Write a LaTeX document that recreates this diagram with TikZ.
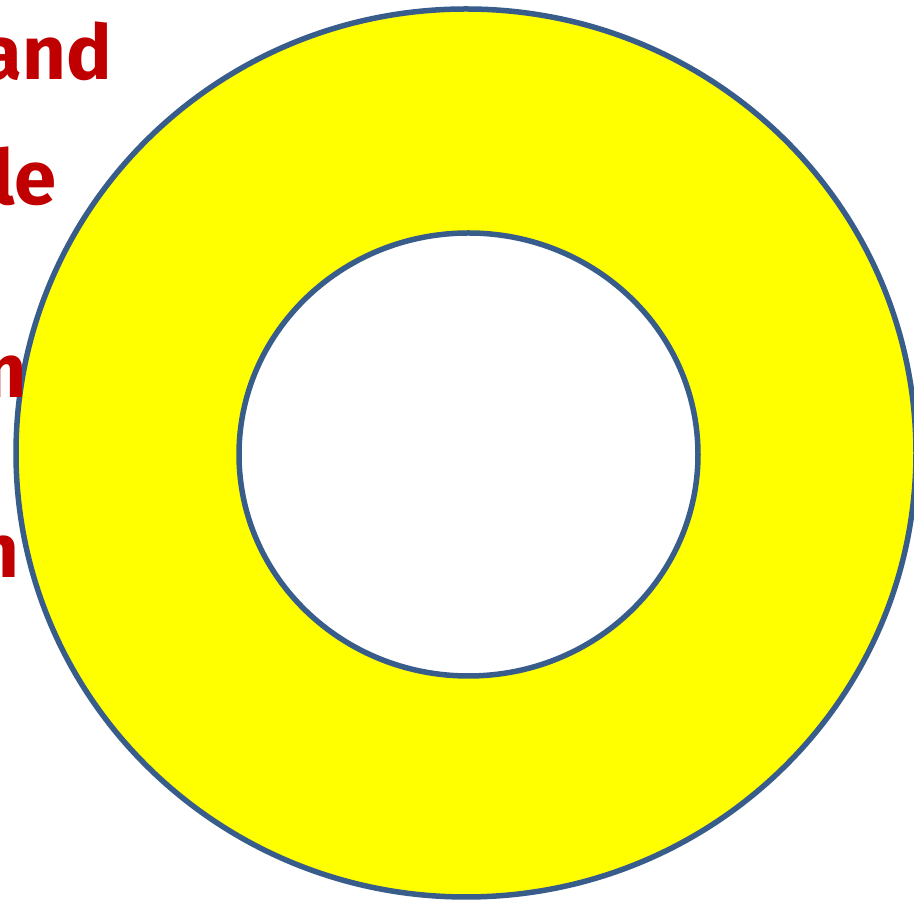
\documentclass[tikz,border=0pt]{standalone}
\usepackage{fontspec}
\setmainfont{Fira Sans}
\definecolor{ringblue}{HTML}{385D8A}
\definecolor{ringyellow}{HTML}{FFFF00}
\definecolor{textred}{HTML}{C00000}
\tikzset{
  redtxt/.style={anchor=base east, inner sep=0pt, text=textred, font=\fontsize{76}{76}\selectfont\bfseries},
  ringline/.style={draw=ringblue, line width=5.5pt}
}
\begin{document}
\begin{tikzpicture}[x=1pt,y=1pt]
\useasboundingbox (0,0) rectangle (914,901);
\clip (0,0) rectangle (914,901);
\fill[white] (0,0) rectangle (914,901);
\fill[ringyellow, even odd rule] (466,448) ellipse [x radius=450, y radius=444]
  (468.5,446.5) ellipse [x radius=229.5, y radius=221.5];
\draw[ringline] (466,448) ellipse [x radius=450, y radius=444];
\draw[ringline] (468.5,446.5) ellipse [x radius=229.5, y radius=221.5];
\node[redtxt] (t1) at (112,821) {and};
\node[redtxt] (t2) at (57,696) {le};
\node[redtxt] (t3) at (27,503) {m};
\node[redtxt] (t4) at (20,323) {n};
\end{tikzpicture}
\end{document}
